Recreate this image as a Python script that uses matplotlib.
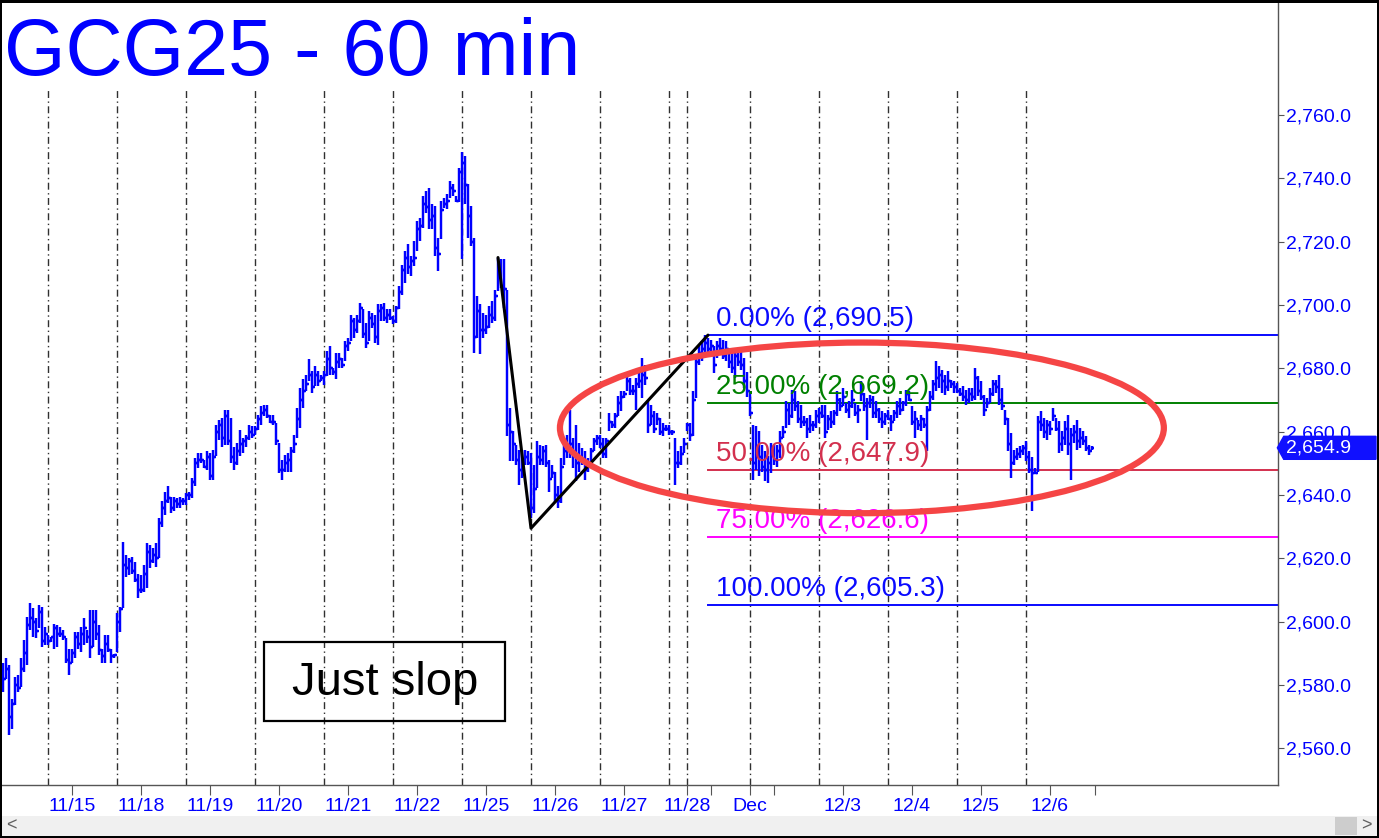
import matplotlib
matplotlib.use('Agg')
import matplotlib.pyplot as plt
import matplotlib.transforms as mtransforms
from matplotlib.collections import LineCollection
from matplotlib.patches import Ellipse, Rectangle, Polygon
import numpy as np

# hourly bars of GCG25, one entry per bar (11/14 evening -> 12/6)
highs = [
    2586.8, 2588.4, 2586.3, 2575.7, 2582.6, 2583.1, 2588.4, 2594.2, 2601.5, 2605.8,
    2604.2, 2601.0, 2605.3, 2604.7, 2598.4, 2595.7, 2595.2, 2599.4, 2598.9, 2598.4,
    2597.3, 2594.7, 2591.5, 2591.5, 2596.8, 2596.8, 2598.4, 2601.0, 2597.3, 2603.7,
    2603.7, 2603.7, 2598.9, 2591.5, 2595.7, 2595.7, 2591.5, 2589.9, 2602.6, 2604.7,
    2625.3, 2621.1, 2620.0, 2620.5, 2618.9, 2615.2, 2614.7, 2617.9, 2624.8, 2624.2,
    2623.2, 2624.8, 2632.7, 2638.0, 2641.1, 2642.7, 2639.5, 2639.5, 2639.0, 2639.5,
    2639.0, 2640.6, 2641.1, 2645.3, 2651.6, 2653.2, 2653.2, 2651.1, 2653.8, 2653.2,
    2654.3, 2662.2, 2663.8, 2664.3, 2667.0, 2667.0, 2664.3, 2655.3, 2656.4, 2660.6,
    2658.0, 2659.0, 2662.2, 2661.7, 2661.7, 2665.4, 2668.0, 2668.5, 2668.5, 2665.4,
    2665.4, 2662.7, 2656.4, 2651.1, 2652.7, 2653.2, 2655.3, 2659.0, 2667.5, 2673.8,
    2676.5, 2678.0, 2682.8, 2679.1, 2680.7, 2679.1, 2678.0, 2679.1, 2685.4, 2687.0,
    2680.1, 2684.9, 2684.9, 2683.3, 2688.6, 2689.6, 2697.0, 2696.0, 2697.0, 2700.7,
    2698.6, 2694.4, 2698.1, 2697.5, 2697.0, 2700.2, 2700.2, 2700.7, 2698.6, 2698.6,
    2696.5, 2699.7, 2706.0, 2712.8, 2717.1, 2719.2, 2715.5, 2720.2, 2726.6, 2727.6,
    2734.5, 2736.1, 2737.1, 2731.8, 2731.3, 2721.3, 2732.9, 2733.9, 2735.0, 2739.2,
    2738.2, 2734.5, 2743.4, 2748.2, 2747.1, 2738.2, 2731.3, 2721.3, 2702.8, 2700.2,
    2697.5, 2697.0, 2699.7, 2701.2, 2704.9, 2714.9, 2714.4, 2714.4, 2704.9, 2667.5,
    2660.1, 2655.9, 2654.3, 2654.3, 2654.3, 2653.8, 2653.2, 2649.6, 2656.9, 2655.9,
    2655.4, 2655.9, 2651.1, 2649.6, 2647.4, 2642.7, 2651.7, 2658.0, 2659.1, 2667.0,
    2658.0, 2662.2, 2656.4, 2654.8, 2653.8, 2651.7, 2654.8, 2658.0, 2659.1, 2659.1,
    2658.0, 2658.0, 2665.9, 2663.3, 2665.9, 2671.2, 2672.8, 2672.8, 2677.5, 2677.0,
    2674.9, 2677.0, 2679.1, 2683.3, 2681.2, 2670.1, 2668.5, 2666.4, 2665.9, 2664.3,
    2662.7, 2662.2, 2662.2, 2660.6, 2658.0, 2653.8, 2655.4, 2658.0, 2662.7, 2662.7,
    2672.8, 2684.4, 2687.0, 2688.6, 2690.5, 2689.6, 2689.1, 2687.0, 2688.6, 2689.6,
    2689.1, 2688.6, 2686.5, 2684.9, 2685.9, 2685.4, 2685.4, 2683.3, 2679.0, 2672.8,
    2662.2, 2661.7, 2660.1, 2655.9, 2653.8, 2652.2, 2656.4, 2655.9, 2655.9, 2660.1,
    2661.7, 2669.6, 2669.1, 2673.3, 2672.8, 2669.6, 2668.5, 2664.8, 2664.3, 2665.4,
    2663.3, 2666.9, 2667.5, 2668.5, 2668.5, 2665.4, 2666.4, 2666.9, 2672.8, 2670.6,
    2673.8, 2669.1, 2669.6, 2673.3, 2669.1, 2668.5, 2675.9, 2672.2, 2670.6, 2671.7,
    2671.2, 2669.6, 2667.5, 2666.4, 2665.9, 2666.9, 2665.4, 2666.9, 2669.6, 2670.6,
    2669.6, 2673.3, 2672.8, 2668.0, 2666.4, 2663.8, 2665.4, 2664.3, 2668.0, 2672.8,
    2676.4, 2682.2, 2680.7, 2679.6, 2678.0, 2679.1, 2676.4, 2675.9, 2675.4, 2673.8,
    2674.3, 2673.3, 2673.8, 2673.8, 2680.1, 2677.5, 2675.9, 2671.7, 2670.6, 2673.8,
    2676.4, 2676.4, 2678.0, 2673.8, 2667.0, 2664.3, 2659.6, 2654.3, 2654.9, 2655.4,
    2655.9, 2656.9, 2653.8, 2652.0, 2648.5, 2664.8, 2666.4, 2664.3, 2663.8, 2663.3,
    2667.5, 2664.3, 2663.3, 2660.1, 2663.3, 2665.4, 2661.2, 2662.2, 2663.8, 2661.2,
    2660.1, 2658.5, 2655.9, 2655.4,
]
lows = [
    2577.8, 2582.0, 2564.1, 2566.2, 2573.6, 2577.8, 2579.4, 2584.1, 2586.3, 2597.3,
    2595.2, 2594.7, 2597.9, 2592.1, 2592.6, 2592.6, 2593.6, 2591.5, 2592.1, 2595.2,
    2594.2, 2586.8, 2583.1, 2586.8, 2588.4, 2591.5, 2590.5, 2592.6, 2593.1, 2588.4,
    2592.1, 2594.2, 2589.4, 2586.8, 2586.8, 2590.5, 2586.8, 2588.4, 2590.5, 2596.8,
    2604.2, 2614.2, 2614.7, 2615.2, 2612.6, 2607.4, 2609.0, 2609.5, 2610.5, 2616.8,
    2618.4, 2617.4, 2620.0, 2630.0, 2633.7, 2637.4, 2634.2, 2634.8, 2635.8, 2635.8,
    2636.9, 2636.9, 2638.5, 2639.0, 2642.7, 2648.5, 2650.1, 2648.5, 2648.0, 2644.8,
    2644.8, 2652.2, 2657.5, 2655.3, 2655.9, 2655.9, 2650.1, 2648.0, 2649.6, 2652.2,
    2653.2, 2655.3, 2657.5, 2658.0, 2659.0, 2660.6, 2662.2, 2664.8, 2664.3, 2662.7,
    2662.2, 2655.9, 2646.9, 2644.8, 2647.4, 2647.4, 2647.4, 2653.2, 2658.0, 2661.2,
    2667.5, 2672.8, 2675.9, 2672.2, 2674.3, 2674.3, 2675.9, 2674.9, 2677.5, 2678.0,
    2678.0, 2676.5, 2680.1, 2680.1, 2682.3, 2685.4, 2688.6, 2689.6, 2691.2, 2694.4,
    2689.6, 2686.5, 2688.6, 2692.8, 2688.0, 2687.5, 2694.9, 2694.9, 2694.4, 2695.4,
    2693.9, 2694.4, 2698.6, 2703.3, 2707.0, 2709.7, 2709.1, 2712.3, 2717.1, 2720.2,
    2724.4, 2729.2, 2723.9, 2723.9, 2715.5, 2710.7, 2720.8, 2730.8, 2730.2, 2733.9,
    2734.5, 2732.4, 2732.4, 2714.4, 2731.8, 2721.3, 2718.6, 2684.9, 2689.6, 2684.4,
    2689.6, 2690.7, 2692.8, 2694.4, 2694.9, 2704.4, 2705.5, 2699.1, 2658.5, 2650.6,
    2650.6, 2649.6, 2643.2, 2645.3, 2649.6, 2649.6, 2632.7, 2634.3, 2642.2, 2649.6,
    2649.6, 2649.0, 2641.1, 2645.3, 2637.4, 2635.8, 2637.4, 2649.6, 2651.7, 2651.7,
    2648.5, 2644.3, 2647.4, 2649.6, 2644.8, 2647.4, 2650.6, 2653.8, 2655.9, 2654.8,
    2651.7, 2651.7, 2660.1, 2661.2, 2661.2, 2664.9, 2666.4, 2670.6, 2672.8, 2671.7,
    2671.7, 2667.0, 2673.8, 2670.6, 2674.9, 2659.6, 2662.2, 2659.6, 2662.2, 2659.1,
    2658.5, 2660.1, 2659.1, 2659.1, 2643.2, 2648.5, 2649.6, 2653.2, 2660.1, 2656.9,
    2658.5, 2670.6, 2681.2, 2682.3, 2684.4, 2684.4, 2684.9, 2678.6, 2683.3, 2685.4,
    2682.8, 2682.3, 2680.1, 2678.6, 2677.0, 2680.7, 2679.6, 2673.8, 2671.0, 2664.8,
    2644.8, 2648.0, 2645.9, 2647.4, 2644.3, 2643.7, 2646.9, 2649.6, 2649.0, 2651.7,
    2658.0, 2661.2, 2662.2, 2664.3, 2666.4, 2662.7, 2661.2, 2661.7, 2658.0, 2659.6,
    2660.1, 2661.2, 2662.7, 2664.3, 2658.0, 2660.6, 2661.2, 2662.2, 2664.8, 2666.4,
    2668.0, 2665.9, 2664.3, 2667.5, 2664.8, 2662.7, 2669.6, 2666.4, 2657.5, 2667.5,
    2664.3, 2664.3, 2662.7, 2661.2, 2662.2, 2663.8, 2660.1, 2663.3, 2664.3, 2665.4,
    2666.4, 2668.0, 2669.6, 2662.2, 2658.0, 2660.6, 2660.1, 2661.2, 2653.8, 2666.4,
    2670.1, 2672.8, 2673.8, 2672.2, 2671.7, 2672.8, 2673.8, 2672.2, 2672.2, 2671.2,
    2669.6, 2668.5, 2669.1, 2669.6, 2670.1, 2671.2, 2670.1, 2664.8, 2667.5, 2669.1,
    2671.2, 2672.2, 2668.5, 2667.0, 2662.2, 2653.8, 2645.3, 2649.6, 2651.1, 2651.7,
    2652.7, 2650.6, 2646.9, 2634.8, 2646.5, 2647.4, 2660.1, 2658.0, 2657.5, 2659.0,
    2663.3, 2660.1, 2653.2, 2653.8, 2655.9, 2652.7, 2644.8, 2656.4, 2654.3, 2654.8,
    2655.9, 2653.8, 2652.7, 2654.3,
]
closes = [
    2582, 2585, 2570, 2574, 2580, 2579, 2585, 2590, 2599, 2601,
    2600, 2597, 2603, 2594, 2596, 2594, 2595, 2598, 2596, 2596,
    2595, 2588, 2587, 2590, 2595, 2593, 2596, 2598, 2595, 2592,
    2600, 2596, 2591, 2589, 2593, 2591, 2589, 2589.5, 2600, 2604,
    2618, 2617, 2619, 2616, 2613, 2610, 2610, 2615, 2622, 2619,
    2621, 2620, 2631, 2636, 2638, 2639, 2636, 2638, 2637, 2638,
    2638, 2640, 2640, 2644, 2650, 2651, 2651, 2649, 2652, 2646,
    2652, 2660, 2662, 2658, 2665, 2657, 2652, 2650, 2654, 2656,
    2657, 2658, 2660, 2659, 2661, 2664, 2666, 2667, 2665, 2663,
    2663, 2657, 2648, 2648, 2650, 2651, 2654, 2656, 2664, 2670,
    2673, 2675, 2678, 2674, 2678, 2676, 2677, 2678, 2683, 2680,
    2679, 2682, 2683, 2681, 2687, 2688, 2695, 2692, 2695, 2699,
    2691, 2688, 2696, 2694, 2690, 2698, 2699, 2696, 2697, 2696,
    2695, 2699, 2704, 2711, 2715, 2712, 2714, 2715, 2724, 2725,
    2732, 2731, 2727, 2728, 2718, 2716, 2730, 2732, 2733, 2737,
    2736, 2733, 2742, 2745, 2738, 2728, 2720, 2690, 2698, 2692,
    2692, 2693, 2697, 2696, 2703, 2712, 2706, 2705, 2662, 2660,
    2656, 2651, 2648, 2650, 2652, 2650, 2636, 2642, 2652, 2651,
    2654, 2650, 2645, 2647, 2640, 2638, 2649, 2654, 2655, 2656,
    2653, 2650, 2652, 2651, 2648, 2650, 2654, 2657, 2658, 2656,
    2653, 2657, 2663, 2662, 2665, 2669, 2671, 2672, 2676, 2673,
    2673, 2675, 2676, 2678, 2677, 2662, 2665, 2661, 2664, 2660,
    2661, 2661, 2660, 2660, 2650, 2650, 2653, 2656, 2662, 2659,
    2670, 2682, 2685, 2686, 2688, 2686, 2687, 2681, 2687, 2686,
    2684, 2686, 2682, 2680, 2684, 2682, 2681, 2676, 2673, 2666,
    2650, 2655, 2652, 2649, 2648, 2650, 2654, 2651, 2654, 2658,
    2660, 2667, 2665, 2670, 2668, 2664, 2663, 2663, 2661, 2662,
    2662, 2665, 2666, 2665, 2660, 2664, 2663, 2666, 2670, 2668,
    2671, 2667, 2668, 2670, 2666, 2667, 2672, 2668, 2669, 2670,
    2666, 2667, 2664, 2663, 2665, 2664, 2663, 2666, 2668, 2667,
    2669, 2672, 2670, 2663, 2664, 2662, 2664, 2662, 2667, 2671,
    2675, 2677, 2678, 2676, 2674, 2676, 2675, 2674, 2673, 2672,
    2671, 2670, 2672, 2671, 2677, 2673, 2671, 2667, 2669, 2672,
    2675, 2674, 2670, 2668, 2664, 2656, 2650, 2652, 2653, 2654,
    2655, 2652, 2648, 2647, 2647, 2663, 2662, 2660, 2662, 2661,
    2665, 2661, 2656, 2658, 2661, 2656, 2659, 2660, 2657, 2658,
    2657, 2655, 2654, 2654.9,
]

# bar index where each trading session opens
session_starts = [15, 38, 61, 84, 107, 130, 153, 176, 199, 222, 228, 249, 272, 295, 318, 341]
# date ticks on the time axis
date_ticks = [23, 46, 69, 92, 115, 138, 161, 184, 207, 228, 236, 249, 257, 280, 303, 326, 349, 364]
date_labels = ['11/15', '11/18', '11/19', '11/20', '11/21', '11/22', '11/25', '11/26', '11/27',
               '11/28', '', 'Dec', '', '12/3', '12/4', '12/5', '12/6', '']

# retracement levels
fib_pcts = ['0.00%', '25.00%', '50.00%', '75.00%', '100.00%']
fib_prices = [2690.5, 2669.2, 2647.9, 2626.6, 2605.3]
fib_colors = ['#0a0aff', '#008000', '#d3304e', '#ff00ff', '#0a0aff']

# hand drawn swing lines (bar index, price)
swing_idx = [165, 176, 235]
swing_px = [2715.0, 2629.5, 2690.5]

price_ticks = np.arange(2560, 2761, 20)


def main():
    W, H = 1379, 838
    fig = plt.figure(figsize=(W / 100, H / 100), dpi=100)
    plt.rcParams['font.family'] = ['Liberation Sans', 'DejaVu Sans']

    # plot area in pixels: x 2..1278, y 3..785
    ax = fig.add_axes([2 / W, (H - 785) / H, 1276 / W, 782 / H])
    ax.set_xlim(-0.33, 425)
    ax.set_ylim(2548.4, 2795.4)

    # session separators
    for s in session_starts:
        ax.axvline(s, ymax=0.889, color='#303030', lw=1.0,
                   linestyle=(0, (5, 2.5, 1, 2.5)), zorder=1)

    # ohlc bars, open = previous close
    opens = [closes[0]] + closes[:-1]
    segs = []
    for i in range(len(closes)):
        segs.append([(i, lows[i]), (i, highs[i])])
        segs.append([(i - 0.55, opens[i]), (i, opens[i])])
        segs.append([(i, closes[i]), (i + 0.55, closes[i])])
    ax.add_collection(LineCollection(segs, colors='#0000ff', linewidths=1.75,
                                     capstyle='butt', zorder=3))

    # swing lines
    ax.plot(swing_idx, swing_px, color='black', lw=2.2, zorder=4, solid_capstyle='round')

    # retracement lines and labels
    for pct, price, col in zip(fib_pcts, fib_prices, fib_colors):
        ax.plot([235, 425], [price, price], color=col, lw=1.4, zorder=2)
        ax.annotate(f'{pct} ({price:,.1f})', xy=(237.7, price), xytext=(0, 6.5),
                    textcoords='offset points', va='baseline', ha='left',
                    color=col, fontsize=20, zorder=5)

    # red ellipse
    ax.add_patch(Ellipse((286.3, 2661.2), 201.3, 53.9, fill=False,
                         ec='#f54545', lw=4.5, zorder=6))

    # note box
    ax.add_patch(Rectangle((0.2053, 0.0818), 0.1889, 0.101, transform=ax.transAxes,
                           fill=False, ec='black', lw=1.6, zorder=5))
    ax.text(0.3002, 0.1304, 'Just slop', transform=ax.transAxes, ha='center',
            va='center', fontsize=34, color='black', zorder=6)

    # axes styling
    for side in ['top', 'left']:
        ax.spines[side].set_visible(False)
    for side in ['right', 'bottom']:
        ax.spines[side].set_color('#555555')
        ax.spines[side].set_linewidth(1.0)
    ax.yaxis.tick_right()
    ax.set_yticks(price_ticks)
    ax.set_yticklabels([f'{p:,.1f}' for p in price_ticks])
    ax.set_xticks(date_ticks)
    ax.set_xticklabels(date_labels)
    ax.tick_params(axis='y', length=4.5, width=0.8, color='#555555', pad=1.5,
                   labelsize=14, labelcolor='#0000ff')
    ax.tick_params(axis='x', length=7.5, width=0.8, color='#555555', pad=1.5,
                   labelsize=14, labelcolor='#0000ff')

    # last price flag (sits over the 2,660.0 label as in the original)
    last = closes[-1]
    trans = mtransforms.blended_transform_factory(ax.transAxes, ax.transData)
    hh = 3.63
    flag = Polygon([(0.9995, last), (1.0045, last + hh), (1.0768, last + hh),
                    (1.0768, last - hh), (1.0045, last - hh)], closed=True,
                   transform=trans, fc='#1010ff', ec='#1010ff', clip_on=False, zorder=8)
    ax.add_patch(flag)
    ax.text(1.0063, last, f'{last:,.1f}', transform=trans, ha='left', va='center',
            color='white', fontsize=14, zorder=9, clip_on=False)

    # title
    fig.text(4 / W, 1 - 75 / H, 'GCG25 - 60 min', color='#0000ff', fontsize=57,
             ha='left', va='baseline')

    # scroll bar and window frame
    fig.patches.append(Rectangle((2 / W, 2 / H), 1375 / W, 20 / H, transform=fig.transFigure,
                                 fc='#f0f0f0', ec='none', zorder=1))
    fig.patches.append(Rectangle((1335 / W, 3 / H), 22 / W, 18 / H, transform=fig.transFigure,
                                 fc='#cdcdcd', ec='none', zorder=2))
    fig.text(11 / W, 12 / H, '<', color='#606060', fontsize=13, ha='center', va='center')
    fig.text(1366 / W, 12 / H, '>', color='#606060', fontsize=13, ha='center', va='center')
    for rect in [(0, 0, 2, H), (0, H - 3, W, 3), (0, 0, W, 2), (W - 2, 0, 2, H)]:
        fig.patches.append(Rectangle((rect[0] / W, rect[1] / H), rect[2] / W, rect[3] / H,
                                     transform=fig.transFigure, fc='black', ec='none', zorder=3))

    fig.savefig('out.png', dpi=100)


if __name__ == '__main__':
    main()
